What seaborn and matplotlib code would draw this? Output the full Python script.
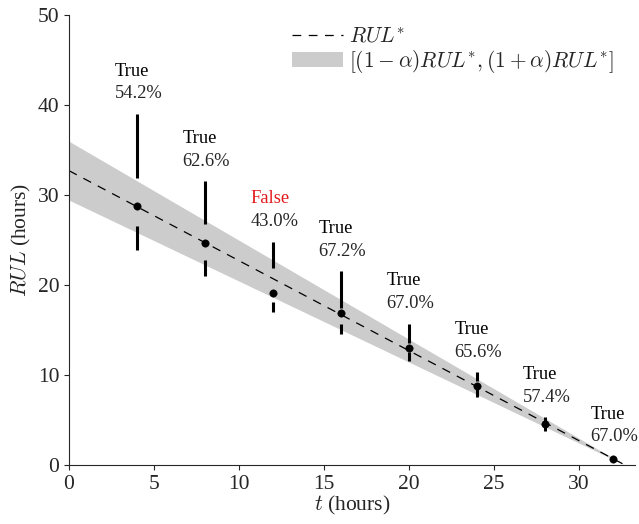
import seaborn as sns
import numpy as np
import pandas as pd
import matplotlib.pyplot as plt
from matplotlib.patches import Patch
from matplotlib.lines import Line2D

# measurement times and box stats (whisker low, q1, median, q3, whisker high)
t_obs = [4, 8, 12, 16, 20, 24, 28, 32]
w_low = [23.9, 21.0, 17.0, 14.6, 11.5, 7.5, 3.8, 0.5]
q1 = [26.5, 22.8, 18.1, 15.7, 12.6, 8.4, 4.2, 0.6]
median = [28.8, 24.7, 19.1, 16.85, 13.0, 8.8, 4.5, 0.7]
q3 = [31.9, 26.8, 21.9, 17.4, 13.5, 9.3, 4.8, 0.8]
w_high = [39.0, 31.5, 24.8, 21.5, 15.7, 10.3, 5.3, 0.9]
verdict = ['True', 'True', 'False', 'True', 'True', 'True', 'True', 'True']
coverage = ['54.2%', '62.6%', '43.0%', '67.2%', '67.0%', '65.6%', '57.4%', '67.0%']

eol = 32.7
alpha = 0.1
t_line = [0, eol]
rul_true = [eol, 0]

sns.set_style('ticks')
plt.rcParams['font.family'] = ['Liberation Serif', 'DejaVu Serif']
plt.rcParams['mathtext.fontset'] = 'cm'

fig = plt.figure(figsize=(6.39, 5.24), dpi=100)
ax = fig.add_axes([0.108, 0.1126, 0.886, 0.8588])

band_t = np.array(t_line)
band_r = np.array(rul_true)
ax.fill_between(band_t, (1 - alpha) * band_r, (1 + alpha) * band_r,
                color='#cccccc', lw=0, zorder=1)

line_df = pd.DataFrame({'t': t_line, 'rul': rul_true})
sns.lineplot(data=line_df, x='t', y='rul', color='black', lw=0.9,
             linestyle=(0, (7, 6)), ax=ax, zorder=2)

# Tufte-style boxes: whiskers only, gap for IQR, dot for median
ax.vlines(t_obs, w_low, q1, color='black', lw=2.2, zorder=3)
ax.vlines(t_obs, q3, w_high, color='black', lw=2.2, zorder=3)
pts = pd.DataFrame({'t': t_obs, 'm': median})
sns.scatterplot(data=pts, x='t', y='m', color='black', s=28,
                edgecolor='black', ax=ax, zorder=4)

for x, top, v, c in zip(t_obs, w_high, verdict, coverage):
    col = 'black' if v == 'True' else '#e31a1c'
    ax.annotate(c, xy=(x, top), xytext=(-16.2, 11.3), textcoords='offset points',
                ha='left', va='baseline', fontsize=13.3)
    ax.annotate(v, xy=(x, top), xytext=(-16.2, 27.6), textcoords='offset points',
                ha='left', va='baseline', fontsize=13.3, color=col)

ax.set_xlim(0, 33.3)
ax.set_ylim(0, 50)
ax.set_xticks([0, 5, 10, 15, 20, 25, 30])
ax.set_yticks([0, 10, 20, 30, 40, 50])
ax.tick_params(labelsize=15.5)
ax.set_xlabel(r'$t$ (hours)', fontsize=15.5, labelpad=0)
ax.set_ylabel(r'$RUL$ (hours)', fontsize=15.5, labelpad=3)
sns.despine(ax=ax)

handles = [Line2D([0], [0], color='black', lw=0.9, linestyle=(0, (7, 6))),
           Patch(facecolor='#cccccc', edgecolor='none')]
labels = [r'$RUL^{*}$', r'$[(1-\alpha)RUL^{*},(1+\alpha)RUL^{*}]$']
ax.legend(handles, labels, loc='upper right', frameon=False, fontsize=15.4,
          handlelength=2.4, handletextpad=0.3, labelspacing=0.0,
          borderaxespad=0.2, bbox_to_anchor=(0.985, 1.0))

fig.savefig('out.png', dpi=100)
